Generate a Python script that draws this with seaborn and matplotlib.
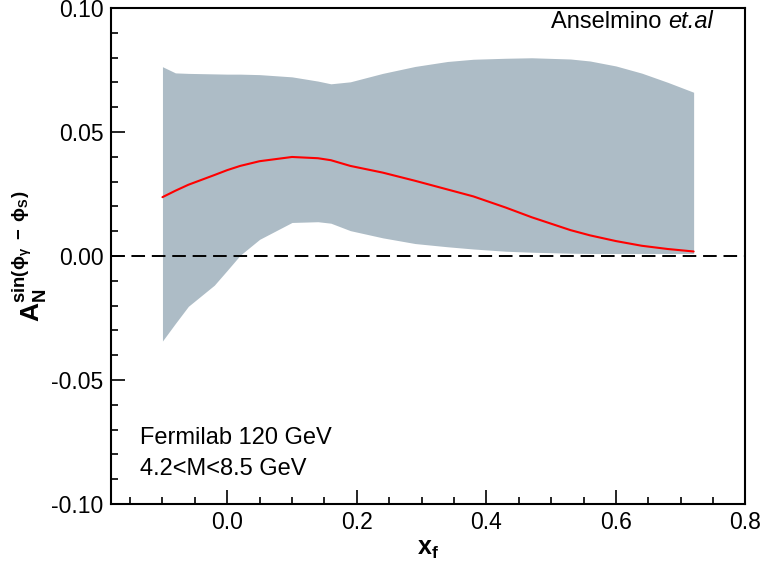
import numpy as np
import pandas as pd
import matplotlib
matplotlib.use("Agg")
import matplotlib.pyplot as plt
import seaborn as sns
from matplotlib.ticker import MultipleLocator

# ------------------------
# Data
# ------------------------

xf = [-0.10, -0.08, -0.06, -0.02, 0.00, 0.02, 0.05, 0.10, 0.14, 0.16, 0.19,
      0.24, 0.29, 0.34, 0.38, 0.43, 0.47, 0.53, 0.56, 0.60, 0.64, 0.68, 0.72]

band_upper = [0.0763, 0.0738, 0.0736, 0.0734, 0.0733, 0.0733, 0.0731, 0.0722,
              0.0705, 0.0694, 0.0702, 0.0736, 0.0764, 0.0784, 0.0793, 0.0797,
              0.0799, 0.0794, 0.0786, 0.0766, 0.0737, 0.0700, 0.0660]

band_lower = [-0.0343, -0.0272, -0.0203, -0.0118, -0.0058, 0.0003, 0.0067, 0.0135,
              0.0138, 0.0132, 0.0102, 0.0073, 0.0050, 0.0037, 0.0028, 0.0019,
              0.0015, 0.0011, 0.0010, 0.0010, 0.0010, 0.0010, 0.0010]

central = [0.0237, 0.0263, 0.0287, 0.0326, 0.0346, 0.0363, 0.0382, 0.0399,
           0.0394, 0.0386, 0.0363, 0.0336, 0.0303, 0.0268, 0.0240, 0.0195,
           0.0156, 0.0104, 0.0083, 0.0060, 0.0041, 0.0028, 0.0018]

df = pd.DataFrame({"xf": xf, "lo": band_lower, "hi": band_upper, "AN": central})

# ------------------------
# Style
# ------------------------

sns.set_style("ticks")
plt.rcParams["font.family"] = ["Liberation Sans", "DejaVu Sans"]
plt.rcParams["mathtext.fontset"] = "custom"
plt.rcParams["mathtext.rm"] = "Liberation Sans"
plt.rcParams["mathtext.it"] = "Liberation Sans:italic"
plt.rcParams["mathtext.bf"] = "Liberation Sans:bold"
plt.rcParams["text.color"] = "black"
plt.rcParams["axes.labelcolor"] = "black"
plt.rcParams["axes.edgecolor"] = "black"
plt.rcParams["xtick.color"] = "black"
plt.rcParams["ytick.color"] = "black"

fig = plt.figure(figsize=(7.63, 5.65), dpi=100)
ax = fig.add_axes([0.145, 0.108, 0.832, 0.878])

# ------------------------
# Plot
# ------------------------

ax.fill_between(df["xf"], df["lo"], df["hi"], color="#adbcc6", linewidth=0)
sns.lineplot(data=df, x="xf", y="AN", color="red", linewidth=1.5, ax=ax)
ax.axhline(0.0, color="black", linestyle=(0, (7, 3.5)), linewidth=1.4)

ax.set_xlim(-0.18, 0.8)
ax.set_ylim(-0.1, 0.1)

ax.xaxis.set_major_locator(MultipleLocator(0.2))
ax.xaxis.set_minor_locator(MultipleLocator(0.05))
ax.yaxis.set_major_locator(MultipleLocator(0.05))
ax.yaxis.set_minor_locator(MultipleLocator(0.01))
ax.xaxis.set_major_formatter(lambda v, p: f"{v:.1f}")
ax.yaxis.set_major_formatter(lambda v, p: f"{v:.2f}")

ax.tick_params(which="both", direction="in", top=False, right=False,
               labelsize=16.5, width=1.2)
ax.tick_params(which="major", length=10, pad=5)
ax.tick_params(which="minor", length=5)
for s in ax.spines.values():
    s.set_linewidth(1.5)

ax.set_xlabel(r"$\mathbf{x_f}$", fontsize=18, labelpad=2)
ax.set_ylabel(r"$\mathbf{A_N^{sin(\phi_{\gamma}\ -\ \phi_{S})}}$", fontsize=19, labelpad=2)

t1 = ax.text(0.50, 0.0943, "Anselmino ", fontsize=17, va="center")
ax.annotate("et.al", xy=(1, 0), xycoords=t1, va="bottom", fontsize=17,
            style="italic")
ax.text(-0.135, -0.0736, "Fermilab 120 GeV", fontsize=17, va="center")
ax.text(-0.135, -0.0859, "4.2<M<8.5 GeV", fontsize=17, va="center")

plt.savefig("out.png", dpi=100)
